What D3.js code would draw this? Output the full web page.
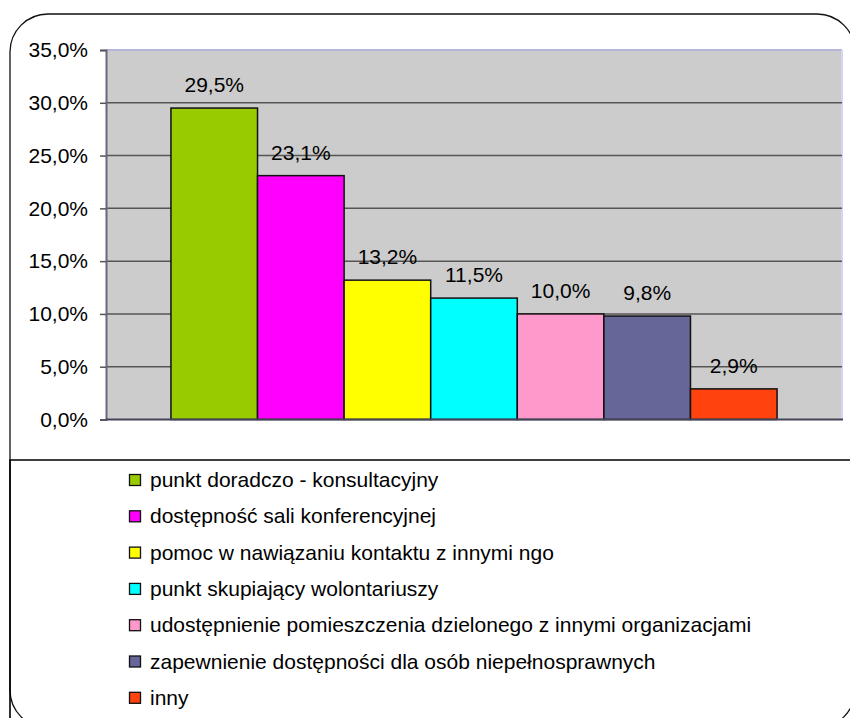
<!DOCTYPE html>
<html>
<head>
<meta charset="utf-8">
<script src="https://cdn.jsdelivr.net/npm/d3@7"></script>
<style>
  body { margin: 0; background: #fff; }
  svg { display: block; font-family: "Liberation Sans", Arial, sans-serif; }
</style>
</head>
<body>
<div class="chart"></div>
<script>
var categories = [
  'punkt doradczo - konsultacyjny',
  'dostępność sali konferencyjnej',
  'pomoc w nawiązaniu kontaktu z innymi ngo',
  'punkt skupiający wolontariuszy',
  'udostępnienie pomieszczenia dzielonego z innymi organizacjami',
  'zapewnienie dostępności dla osób niepełnosprawnych',
  'inny'
];
var values = [0.295, 0.231, 0.132, 0.115, 0.100, 0.098, 0.029];
var colors = ['#99cc00', '#ff00ff', '#ffff00', '#00ffff', '#ff99cc', '#666699', '#ff420e'];
var yTicks = [0, 0.05, 0.10, 0.15, 0.20, 0.25, 0.30, 0.35];

var width = 850, height = 718;
var fs = 21;

var pl = d3.formatLocale({ decimal: ',', thousands: ' ', grouping: [3], currency: ['', ''] });
var pct = pl.format('.1%');

var svg = d3.select('.chart')
            .append('svg')
            .attr('width', width)
            .attr('height', height);

// outer frame
svg.append('rect')
   .attr('x', 10).attr('y', 14)
   .attr('width', 845).attr('height', 714)
   .attr('rx', 38).attr('ry', 38)
   .attr('fill', '#fff')
   .attr('stroke', '#111')
   .attr('stroke-width', 1.3);

// legend box
svg.append('path')
   .attr('d', 'M10,' + height + 'V460H' + width)
   .attr('fill', 'none')
   .attr('stroke', '#000')
   .attr('stroke-width', 1.6);

// scales
var x = d3.scaleBand()
          .domain(categories)
          .range([106, 842])
          .paddingInner(0)
          .paddingOuter(0.75);

var y = d3.scaleLinear()
          .domain([0, 0.35])
          .range([419.5, 50]);

// plot area
svg.append('rect')
   .attr('x', 106).attr('y', y(0.35))
   .attr('width', 736).attr('height', y(0) - y(0.35))
   .attr('fill', '#cccccc');

svg.append('line')
   .attr('x1', 106).attr('x2', 842)
   .attr('y1', y(0.35)).attr('y2', y(0.35))
   .attr('stroke', '#b4b4dc').attr('stroke-width', 2);
svg.append('line')
   .attr('x1', 842).attr('x2', 842)
   .attr('y1', y(0.35)).attr('y2', y(0))
   .attr('stroke', '#d4d4f8').attr('stroke-width', 2);

// gridlines
svg.append('g')
   .selectAll('line')
   .data(yTicks.slice(1, -1))
   .join('line')
   .attr('x1', 106).attr('x2', 842)
   .attr('y1', function(d){ return y(d); })
   .attr('y2', function(d){ return y(d); })
   .attr('stroke', '#555').attr('stroke-width', 1.5);

// y axis
var y_axis = d3.axisLeft()
               .scale(y)
               .tickValues(yTicks)
               .tickSize(6)
               .tickPadding(12)
               .tickFormat(pct);

var ya = svg.append('g')
            .attr('transform', 'translate(106,0)')
            .call(y_axis);
ya.select('.domain').attr('stroke', '#666680').attr('stroke-width', 2);
ya.selectAll('.tick line').attr('stroke', '#555').attr('stroke-width', 1.5);
ya.selectAll('.tick text')
  .attr('font-size', fs)
  .attr('fill', '#000')
  .attr('font-family', '"Liberation Sans", Arial, sans-serif');

// bars
svg.append('g')
   .selectAll('rect')
   .data(values)
   .join('rect')
   .attr('x', function(d, i){ return x(categories[i]); })
   .attr('y', function(d){ return y(d); })
   .attr('width', x.bandwidth())
   .attr('height', function(d){ return y(0) - y(d); })
   .attr('fill', function(d, i){ return colors[i]; })
   .attr('stroke', '#111')
   .attr('stroke-width', 1.5);

// x axis line
svg.append('line')
   .attr('x1', 106).attr('x2', 843)
   .attr('y1', y(0)).attr('y2', y(0))
   .attr('stroke', '#444458').attr('stroke-width', 2);

// value labels
svg.append('g')
   .selectAll('text')
   .data(values)
   .join('text')
   .attr('x', function(d, i){ return x(categories[i]) + x.bandwidth() / 2; })
   .attr('y', function(d){ return y(d) - 16; })
   .attr('text-anchor', 'middle')
   .attr('font-size', fs)
   .attr('fill', '#000')
   .text(function(d){ return pct(d); });

// legend
var leg = svg.append('g')
             .selectAll('g')
             .data(categories)
             .join('g')
             .attr('transform', function(d, i){ return 'translate(0,' + (487 + i * 36.3) + ')'; });

leg.append('rect')
   .attr('x', 129.5).attr('y', -12.5)
   .attr('width', 11).attr('height', 11)
   .attr('fill', function(d, i){ return colors[i]; })
   .attr('stroke', '#111')
   .attr('stroke-width', 1.3);

leg.append('text')
   .attr('x', 150)
   .attr('y', 0)
   .attr('font-size', fs)
   .attr('fill', '#000')
   .text(function(d){ return d; });
</script>
</body>
</html>
